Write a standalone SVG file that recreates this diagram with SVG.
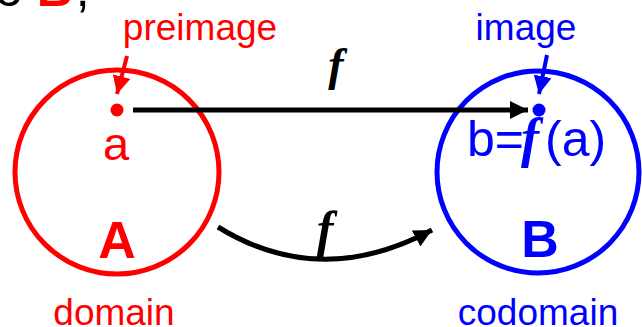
<svg xmlns="http://www.w3.org/2000/svg" width="642" height="327" viewBox="0 0 642 327">
<defs>
<style>
.sans{font-family:"Liberation Sans",Arial,sans-serif}
.ff{font-family:"Liberation Serif","Times New Roman",serif;font-style:italic;font-weight:bold}
.red{fill:#FF0000}
.blue{fill:#0000FF}
.set{fill:none;stroke-width:5}
.conn{fill:none;stroke:#000;stroke-width:5}
</style>
<marker id="ahK" markerUnits="userSpaceOnUse" markerWidth="20" markerHeight="18" refX="18" refY="9" orient="auto"><path d="M0,0 L18,9 L0,18 z" fill="#000"/></marker>
<marker id="ahR" markerUnits="userSpaceOnUse" markerWidth="20" markerHeight="18" refX="18" refY="9" orient="auto"><path d="M0,0 L18,9 L0,18 z" fill="#FF0000"/></marker>
<marker id="ahB" markerUnits="userSpaceOnUse" markerWidth="20" markerHeight="18" refX="18" refY="9" orient="auto"><path d="M0,0 L18,9 L0,18 z" fill="#0000FF"/></marker>
</defs>
<rect width="642" height="327" fill="#fff"/>
<text class="sans" x="-5" y="6" font-size="50" fill="#000">o <tspan class="red" font-weight="bold">B</tspan><tspan dx="3">,</tspan></text>
<g id="nodeA">
<circle class="set" cx="117" cy="172" r="102" stroke="#FF0000"/>
<text class="sans red" x="116" y="160" font-size="47" text-anchor="middle">a</text>
<text class="sans red" x="117" y="258" font-size="52" font-weight="bold" text-anchor="middle">A</text>
<text class="sans red" x="114" y="325" font-size="37" text-anchor="middle">domain</text>
<circle cx="117" cy="110" r="6.5" fill="#FF0000"/>
<text class="sans red" x="200" y="40" font-size="37" text-anchor="middle">preimage</text>
</g>
<g id="nodeB">
<circle class="set" cx="538" cy="172" r="101" stroke="#0000FF"/>
<text class="sans blue" y="156" font-size="50"><tspan x="467">b=</tspan><tspan class="ff" x="521" font-size="54">f</tspan><tspan x="545">(a)</tspan></text>
<text class="sans blue" x="540" y="257" font-size="52" font-weight="bold" text-anchor="middle">B</text>
<text class="sans blue" x="538" y="325" font-size="37" text-anchor="middle">codomain</text>
<circle cx="539" cy="110" r="6.5" fill="#0000FF"/>
<text class="sans blue" x="526" y="40" font-size="37" text-anchor="middle">image</text>
</g>
<g id="connectors">
<line class="conn" x1="133" y1="110" x2="528" y2="110" marker-end="url(#ahK)"/>
<path class="conn" d="M218,227 Q320,290 432,230" marker-end="url(#ahK)"/>
<line x1="127" y1="56" x2="117" y2="94" stroke="#FF0000" stroke-width="4" marker-end="url(#ahR)"/>
<line x1="547" y1="55" x2="539" y2="94" stroke="#0000FF" stroke-width="4" marker-end="url(#ahB)"/>
<text class="ff" x="336" y="80" font-size="46" text-anchor="middle" fill="#000">f</text>
<text class="ff" x="325" y="246" font-size="50" text-anchor="middle" fill="#000">f</text>
</g>
</svg>
